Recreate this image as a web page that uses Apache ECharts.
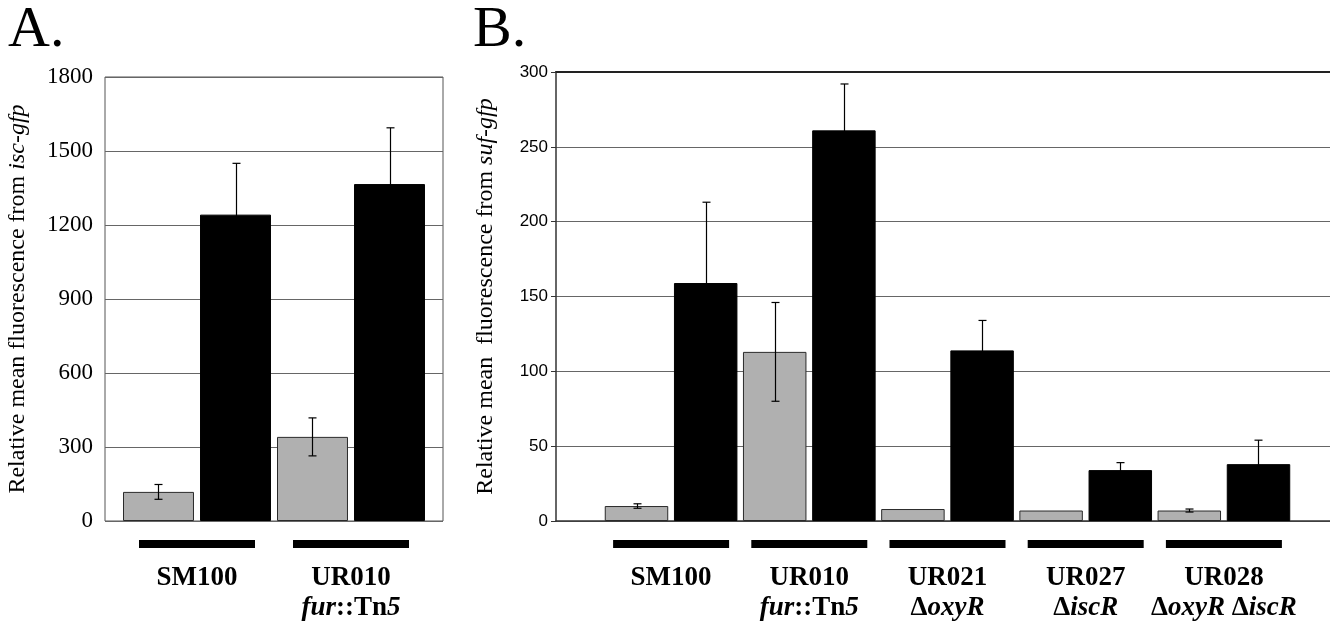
<!DOCTYPE html>
<html>
<head>
<meta charset="utf-8">
<script src="https://cdn.jsdelivr.net/npm/echarts@6/dist/echarts.min.js"></script>
<style>
html,body{margin:0;padding:0;background:#fff;}
#chart{width:1330px;height:623px;}
</style>
</head>
<body>
<div id="chart"></div>
<script>
// ---- Panel A data ----
const strainsA = ['SM100', 'UR010'];
const genotypesA = ['', 'fur::Tn5'];
const grayA = [118, 341];
const grayErrA = [30, 77];
const blackA = [1242, 1366];
const blackErrA = [208, 228];
const yMinA = 0, yMaxA = 1800, yStepA = 300;

// ---- Panel B data ----
const strainsB = ['SM100', 'UR010', 'UR021', 'UR027', 'UR028'];
const genotypesB = ['', 'fur::Tn5', 'ΔoxyR', 'ΔiscR', 'ΔoxyR ΔiscR'];
const grayB = [10, 113, 8, 7, 7];
const grayErrB = [1.5, 33, 0, 0, 1];
const blackB = [159, 261, 114, 34, 38];
const blackErrB = [54, 31, 20, 5, 16];
const yMinB = 0, yMaxB = 300, yStepB = 50;

const SERIF = '"Liberation Serif", "Times New Roman", serif';
const SANS = '"Liberation Sans", Arial, sans-serif';

function richGeno(s) {
  if (!s) return '';
  return s.split(' ').map(function (w) {
    if (w.charAt(0) === 'Δ') return '{d|Δ}{i|' + w.slice(1) + '}';
    const m = w.match(/^(\w+)::(Tn)(\d+)$/);
    if (m) return '{i|' + m[1] + '}{b|::' + m[2] + '}{i|' + m[3] + '}';
    return '{b|' + w + '}';
  }).join('{b| }');
}

function labelCfg(genotypes) {
  return {
    show: true,
    interval: 0,
    margin: 19,
    formatter: function (v, idx) {
      let s = '{bar| }\n{gap| }\n{b|' + v + '}';
      const g = richGeno(genotypes[idx]);
      if (g) s += '\n' + g;
      return s;
    },
    rich: {
      bar: {width: 116, height: 8, lineHeight: 8, backgroundColor: '#000', fontSize: 1},
      gap: {height: 15, lineHeight: 15, fontSize: 1},
      b: {fontFamily: SERIF, fontWeight: 'bold', fontSize: 27, lineHeight: 30, color: '#000'},
      i: {fontFamily: SERIF, fontWeight: 'bold', fontStyle: 'italic', fontSize: 27, lineHeight: 30, color: '#000'},
      d: {fontFamily: SERIF, fontWeight: 'bold', fontSize: 27, lineHeight: 30, color: '#000'}
    }
  };
}

function makeErr(catGap, barGap, capW) {
  return function (params, api) {
    const cat = api.value(0), val = api.value(1), err = api.value(2), side = api.value(3);
    if (!err) return null;
    const W = api.size([1, 0])[0];
    const U = W * (1 - catGap);
    const b = U / (2 + barGap);
    const off = (side ? 1 : -1) * b * (1 + barGap) / 2;
    const hi = api.coord([cat, val + err]);
    const lo = api.coord([cat, val - err]);
    const x = Math.round(hi[0] + off) + 0.5;
    const st = {stroke: '#000', lineWidth: 1.2};
    return {type: 'group', children: [
      {type: 'line', shape: {x1: x, y1: hi[1], x2: x, y2: lo[1]}, style: st},
      {type: 'line', shape: {x1: x - capW / 2, y1: hi[1], x2: x + capW / 2, y2: hi[1]}, style: st},
      {type: 'line', shape: {x1: x - capW / 2, y1: lo[1], x2: x + capW / 2, y2: lo[1]}, style: st}
    ]};
  };
}

function errData(vals, errs, side) {
  return vals.map(function (v, i) { return [i, v, errs[i], side]; });
}

const catGapA = 0.039, barGapA = 0.085;
const catGapB = 0.04, barGapB = 0.09;

const option = {
  animation: false,
  backgroundColor: '#fff',
  graphic: [
    {type: 'text', left: 8, top: 2, style: {text: 'A.', font: '58px ' + SERIF, fill: '#000'}},
    {type: 'text', left: 473, top: 2, style: {text: 'B.', font: '58px ' + SERIF, fill: '#000'}}
  ],
  grid: [
    {left: 105, top: 77, width: 338, height: 444, show: true, borderColor: '#555', borderWidth: 1, backgroundColor: 'transparent'},
    {left: 120, top: 77, width: 308, height: 444},
    {left: 556, top: 72, width: 774, height: 449},
    {left: 602, top: 72, width: 691, height: 449}
  ],
  xAxis: [
    {gridIndex: 0, type: 'value', min: 0, max: 1, axisLine: {show: false}, axisTick: {show: false}, axisLabel: {show: false}, splitLine: {show: false}},
    {gridIndex: 1, type: 'category', data: strainsA, axisLine: {show: false}, axisTick: {show: false}, axisLabel: labelCfg(genotypesA)},
    {gridIndex: 2, type: 'value', min: 0, max: 1, axisLine: {show: true, onZero: false, lineStyle: {color: '#333', width: 1.5}}, axisTick: {show: false}, axisLabel: {show: false}, splitLine: {show: false}},
    {gridIndex: 3, type: 'category', data: strainsB, axisLine: {show: false}, axisTick: {show: false}, axisLabel: labelCfg(genotypesB)},
    {gridIndex: 2, type: 'value', position: 'top', min: 0, max: 1, axisLine: {show: true, onZero: false, lineStyle: {color: '#222', width: 2}}, axisTick: {show: false}, axisLabel: {show: false}, splitLine: {show: false}}
  ],
  yAxis: [
    {gridIndex: 0, type: 'value', min: yMinA, max: yMaxA, interval: yStepA,
      axisLine: {show: false}, axisTick: {show: false},
      axisLabel: {margin: 12, fontFamily: SERIF, fontSize: 23, color: '#000', formatter: function (v) { return String(v); }},
      splitLine: {show: true, lineStyle: {color: '#666', width: 1}},
      name: 'Relative mean fluorescence from {i|isc-gfp}', nameLocation: 'middle', nameRotate: 90, nameGap: 75,
      nameTextStyle: {fontFamily: SERIF, fontSize: 24, color: '#000', rich: {i: {fontFamily: SERIF, fontSize: 24, fontStyle: 'italic', color: '#000'}}}
    },
    {gridIndex: 1, type: 'value', min: yMinA, max: yMaxA, interval: yStepA, show: false},
    {gridIndex: 2, type: 'value', min: yMinB, max: yMaxB, interval: yStepB,
      axisLine: {show: true, lineStyle: {color: '#333', width: 1.5}},
      axisTick: {show: true, length: 5, lineStyle: {color: '#333'}},
      axisLabel: {margin: 8, fontFamily: SANS, fontSize: 17, color: '#000', formatter: function (v) { return String(v); }},
      splitLine: {show: true, lineStyle: {color: '#666', width: 1}},
      name: 'Relative mean  fluorescence from {i|suf-gfp}', nameLocation: 'middle', nameRotate: 90, nameGap: 58,
      nameTextStyle: {fontFamily: SERIF, fontSize: 24, color: '#000', rich: {i: {fontFamily: SERIF, fontSize: 24, fontStyle: 'italic', color: '#000'}}}
    },
    {gridIndex: 3, type: 'value', min: yMinB, max: yMaxB, interval: yStepB, show: false}
  ],
  series: [
    {type: 'bar', xAxisIndex: 1, yAxisIndex: 1, data: grayA, barCategoryGap: (catGapA * 100) + '%', barGap: (barGapA * 100) + '%',
      itemStyle: {color: '#b0b0b0', borderColor: '#2a2a2a', borderWidth: 1}},
    {type: 'bar', xAxisIndex: 1, yAxisIndex: 1, data: blackA, barCategoryGap: (catGapA * 100) + '%', barGap: (barGapA * 100) + '%',
      itemStyle: {color: '#000', borderColor: '#000', borderWidth: 1}},
    {type: 'custom', xAxisIndex: 1, yAxisIndex: 1, renderItem: makeErr(catGapA, barGapA, 8),
      data: errData(grayA, grayErrA, 0).concat(errData(blackA, blackErrA, 1)), z: 5},
    {type: 'bar', xAxisIndex: 3, yAxisIndex: 3, data: grayB, barCategoryGap: (catGapB * 100) + '%', barGap: (barGapB * 100) + '%',
      itemStyle: {color: '#b0b0b0', borderColor: '#2a2a2a', borderWidth: 1}},
    {type: 'bar', xAxisIndex: 3, yAxisIndex: 3, data: blackB, barCategoryGap: (catGapB * 100) + '%', barGap: (barGapB * 100) + '%',
      itemStyle: {color: '#000', borderColor: '#000', borderWidth: 1}},
    {type: 'custom', xAxisIndex: 3, yAxisIndex: 3, renderItem: makeErr(catGapB, barGapB, 8),
      data: errData(grayB, grayErrB, 0).concat(errData(blackB, blackErrB, 1)), z: 5}
  ]
};

const chart = echarts.init(document.getElementById('chart'), null, {renderer: 'canvas'});
chart.setOption(option);
</script>
</body>
</html>
